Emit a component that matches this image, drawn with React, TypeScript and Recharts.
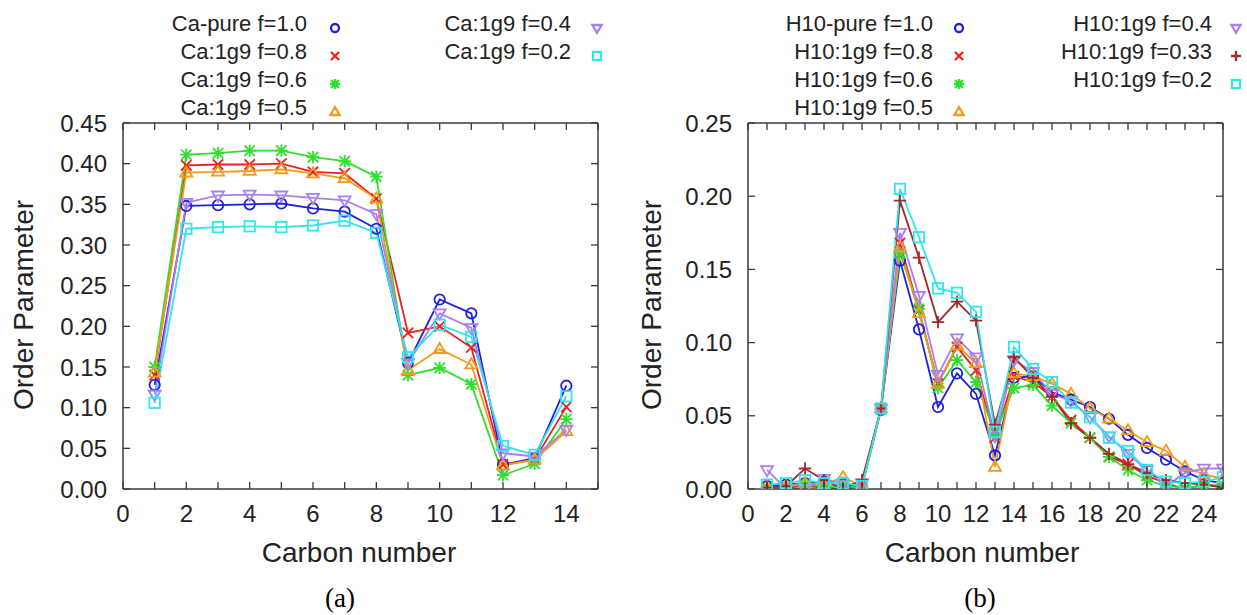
import React from "react";
import { LineChart, Line, XAxis, YAxis } from "recharts";

// Panel (a): Ca lipid, carbons 1-14
const caCarbons = [1, 2, 3, 4, 5, 6, 7, 8, 9, 10, 11, 12, 13, 14];
const caPure = [0.128, 0.348, 0.349, 0.35, 0.351, 0.345, 0.341, 0.32, 0.155, 0.233, 0.216, 0.03, 0.038, 0.127];
const ca08 = [0.14, 0.398, 0.399, 0.399, 0.4, 0.39, 0.388, 0.357, 0.192, 0.2, 0.174, 0.03, 0.036, 0.101];
const ca06 = [0.15, 0.411, 0.413, 0.416, 0.416, 0.408, 0.403, 0.384, 0.14, 0.149, 0.129, 0.017, 0.031, 0.086];
const ca05 = [0.143, 0.389, 0.39, 0.391, 0.393, 0.388, 0.382, 0.357, 0.146, 0.172, 0.153, 0.029, 0.036, 0.071];
const ca04 = [0.116, 0.352, 0.361, 0.362, 0.361, 0.358, 0.355, 0.338, 0.155, 0.216, 0.198, 0.044, 0.04, 0.073];
const ca02 = [0.106, 0.32, 0.322, 0.323, 0.322, 0.324, 0.33, 0.315, 0.162, 0.202, 0.187, 0.053, 0.042, 0.114];

// Panel (b): H10 lipid, carbons 1-25
const hCarbons = [1, 2, 3, 4, 5, 6, 7, 8, 9, 10, 11, 12, 13, 14, 15, 16, 17, 18, 19, 20, 21, 22, 23, 24, 25];
const hPure = [0.002, 0.003, 0.004, 0.005, 0.003, 0.002, 0.054, 0.156, 0.109, 0.056, 0.079, 0.065, 0.023, 0.076, 0.077, 0.066, 0.061, 0.056, 0.048, 0.037, 0.028, 0.02, 0.012, 0.006, 0.004];
const h08 = [0.001, 0.001, 0.002, 0.001, 0.0, 0.002, 0.055, 0.168, 0.122, 0.072, 0.097, 0.081, 0.035, 0.077, 0.073, 0.063, 0.047, 0.035, 0.022, 0.017, 0.009, 0.004, 0.0, 0.003, 0.002];
const h06 = [0.0, 0.002, 0.003, 0.002, 0.002, 0.001, 0.055, 0.161, 0.123, 0.069, 0.088, 0.073, 0.038, 0.069, 0.071, 0.057, 0.045, 0.035, 0.022, 0.013, 0.006, 0.002, 0.001, 0.002, 0.003];
const h05 = [0.001, 0.002, 0.004, 0.003, 0.008, 0.002, 0.055, 0.165, 0.12, 0.072, 0.098, 0.086, 0.015, 0.079, 0.077, 0.072, 0.065, 0.055, 0.048, 0.04, 0.032, 0.026, 0.015, 0.01, 0.007];
const h04 = [0.013, 0.0, 0.0, 0.007, 0.003, 0.004, 0.055, 0.175, 0.132, 0.078, 0.103, 0.09, 0.036, 0.088, 0.08, 0.065, 0.06, 0.049, 0.036, 0.024, 0.013, 0.002, 0.011, 0.014, 0.014];
const h033 = [0.001, 0.002, 0.014, 0.006, 0.0, 0.006, 0.055, 0.197, 0.158, 0.114, 0.128, 0.115, 0.044, 0.09, 0.076, 0.063, 0.045, 0.035, 0.024, 0.017, 0.011, 0.006, 0.004, 0.003, 0.001];
const h02 = [0.003, 0.004, 0.006, 0.004, 0.004, 0.002, 0.055, 0.205, 0.172, 0.137, 0.134, 0.121, 0.039, 0.097, 0.082, 0.073, 0.059, 0.049, 0.035, 0.026, 0.013, 0.005, 0.004, 0.005, 0.008];

// tick values
const caXTicks = [0, 1, 2, 3, 4, 5, 6, 7, 8, 9, 10, 11, 12, 13, 14, 15];
const caYTicks = [0, 0.05, 0.1, 0.15, 0.2, 0.25, 0.3, 0.35, 0.4, 0.45];
const hXTicks = [0, 1, 2, 3, 4, 5, 6, 7, 8, 9, 10, 11, 12, 13, 14, 15, 16, 17, 18, 19, 20, 21, 22, 23, 24, 25];
const hYTicks = [0, 0.05, 0.1, 0.15, 0.2, 0.25];

const BLUE = "#1f1fe0";
const RED = "#f01f1f";
const GREEN = "#2ee02e";
const ORANGE = "#f49b1c";
const PURPLE = "#a97ff0";
const CYAN = "#2fe6ee";
const BROWN = "#a2282a";

type Shape = "circle" | "x" | "star" | "tri" | "tridown" | "plus" | "square";

interface Series {
  key: string;
  name: string;
  values: number[];
  color: string;
  shape: Shape;
}

const caSeries: Series[] = [
  { key: "pure", name: "Ca-pure f=1.0", values: caPure, color: BLUE, shape: "circle" },
  { key: "f08", name: "Ca:1g9 f=0.8", values: ca08, color: RED, shape: "x" },
  { key: "f06", name: "Ca:1g9 f=0.6", values: ca06, color: GREEN, shape: "star" },
  { key: "f05", name: "Ca:1g9 f=0.5", values: ca05, color: ORANGE, shape: "tri" },
  { key: "f04", name: "Ca:1g9 f=0.4", values: ca04, color: PURPLE, shape: "tridown" },
  { key: "f02", name: "Ca:1g9 f=0.2", values: ca02, color: CYAN, shape: "square" },
];

const hSeries: Series[] = [
  { key: "pure", name: "H10-pure f=1.0", values: hPure, color: BLUE, shape: "circle" },
  { key: "f08", name: "H10:1g9 f=0.8", values: h08, color: RED, shape: "x" },
  { key: "f06", name: "H10:1g9 f=0.6", values: h06, color: GREEN, shape: "star" },
  { key: "f05", name: "H10:1g9 f=0.5", values: h05, color: ORANGE, shape: "tri" },
  { key: "f04", name: "H10:1g9 f=0.4", values: h04, color: PURPLE, shape: "tridown" },
  { key: "f033", name: "H10:1g9 f=0.33", values: h033, color: BROWN, shape: "plus" },
  { key: "f02", name: "H10:1g9 f=0.2", values: h02, color: CYAN, shape: "square" },
];

const buildRows = (carbons: number[], series: Series[]) =>
  carbons.map((c, i) => {
    const row: Record<string, number> = { c };
    series.forEach((s) => (row[s.key] = s.values[i]));
    return row;
  });

const caData = buildRows(caCarbons, caSeries);
const hData = buildRows(hCarbons, hSeries);

const FONT = '"Liberation Sans", Arial, Helvetica, sans-serif';
const FRAME = "#3a3a3a";
const TICK = 7; // inward tick length

// plot box inside each chart svg (same for both panels)
const PLOT_LEFT = 123;
const PLOT_TOP = 123;
const PLOT_BOTTOM = 489;
const PLOT_RIGHT = 598;

function Marker({ shape, x, y, color, s, w = 1.8 }: { shape: Shape; x: number; y: number; color: string; s: number; w?: number }) {
  const st = { fill: "none", stroke: color, strokeWidth: w };
  switch (shape) {
    case "circle":
      return <circle cx={x} cy={y} r={s} {...st} />;
    case "x":
      return <path d={`M${x - s},${y - s}L${x + s},${y + s}M${x - s},${y + s}L${x + s},${y - s}`} {...st} />;
    case "plus":
      return <path d={`M${x - s - 1},${y}L${x + s + 1},${y}M${x},${y - s - 1}L${x},${y + s + 1}`} {...st} />;
    case "star":
      return (
        <path
          d={`M${x - s},${y - s}L${x + s},${y + s}M${x - s},${y + s}L${x + s},${y - s}M${x - s - 1},${y}L${x + s + 1},${y}M${x},${y - s - 1}L${x},${y + s + 1}`}
          {...st}
        />
      );
    case "tri":
      return <path d={`M${x},${y - s * 1.2}L${x + s * 1.15},${y + s * 0.75}L${x - s * 1.15},${y + s * 0.75}Z`} {...st} />;
    case "tridown":
      return <path d={`M${x},${y + s * 1.2}L${x + s * 1.15},${y - s * 0.75}L${x - s * 1.15},${y - s * 0.75}Z`} {...st} />;
    default:
      return <rect x={x - s} y={y - s} width={s * 2} height={s * 2} {...st} />;
  }
}

const makeDot = (shape: Shape, color: string) => (p: any) => {
  if (p.cx == null || p.cy == null) return <g key={p.index} />;
  return <Marker key={p.index} shape={shape} x={p.cx} y={p.cy} color={color} s={5.2} />;
};

// custom ticks: inward tick mark drawn against the frame, label where needed
const BottomTick = (labelMax: number) => (p: any) => {
  const v = p.payload.value;
  return (
    <g>
      <line x1={p.x} x2={p.x} y1={PLOT_BOTTOM} y2={PLOT_BOTTOM - TICK} stroke={FRAME} strokeWidth={1.3} />
      {v % 2 === 0 && v <= labelMax ? (
        <text x={p.x} y={PLOT_BOTTOM + 33} textAnchor="middle" fontSize={24} fontFamily={FONT} fill="#222">
          {v}
        </text>
      ) : null}
    </g>
  );
};

const TopTick = (p: any) => (
  <line x1={p.x} x2={p.x} y1={PLOT_TOP} y2={PLOT_TOP + TICK} stroke={FRAME} strokeWidth={1.3} />
);

const LeftTick = (p: any) => (
  <g>
    <line x1={PLOT_LEFT} x2={PLOT_LEFT + TICK} y1={p.y} y2={p.y} stroke={FRAME} strokeWidth={1.3} />
    <text x={PLOT_LEFT - 16} y={p.y + 8.5} textAnchor="end" fontSize={24} fontFamily={FONT} fill="#222">
      {Number(p.payload.value).toFixed(2)}
    </text>
  </g>
);

const RightTick = (p: any) => (
  <line x1={PLOT_RIGHT} x2={PLOT_RIGHT - TICK} y1={p.y} y2={p.y} stroke={FRAME} strokeWidth={1.3} />
);

interface PanelProps {
  data: Record<string, number>[];
  series: Series[];
  xTicks: number[];
  yTicks: number[];
  xMax: number;
  labelMax: number;
  yMax: number;
  width: number;
}

const Panel: React.FC<PanelProps> = ({ data, series, xTicks, yTicks, xMax, labelMax, yMax, width }) => {
  return (
    <LineChart
      width={width}
      height={615}
      data={data}
      margin={{ top: PLOT_TOP - 5, right: width - PLOT_RIGHT - 5, left: PLOT_LEFT - 80, bottom: 615 - PLOT_BOTTOM - 60 }}
    >
      <XAxis
        xAxisId="b"
        dataKey="c"
        type="number"
        domain={[0, xMax]}
        allowDataOverflow
        ticks={xTicks}
        interval={0}
        tickLine={false}
        tickSize={0}
        height={60}
        stroke={FRAME}
        strokeWidth={1.5}
        tick={BottomTick(labelMax)}
      />
      <XAxis
        xAxisId="t"
        orientation="top"
        dataKey="c"
        type="number"
        domain={[0, xMax]}
        allowDataOverflow
        ticks={xTicks}
        interval={0}
        tickLine={false}
        tickSize={0}
        height={5}
        stroke={FRAME}
        strokeWidth={1.5}
        tick={TopTick}
      />
      <YAxis
        yAxisId="l"
        type="number"
        domain={[0, yMax]}
        allowDataOverflow
        ticks={yTicks}
        interval={0}
        tickLine={false}
        tickSize={0}
        width={80}
        stroke={FRAME}
        strokeWidth={1.5}
        tick={LeftTick}
      />
      <YAxis
        yAxisId="r"
        orientation="right"
        type="number"
        domain={[0, yMax]}
        allowDataOverflow
        ticks={yTicks}
        interval={0}
        tickLine={false}
        tickSize={0}
        width={5}
        stroke={FRAME}
        strokeWidth={1.5}
        tick={RightTick}
      />
      {series.map((s) => (
        <Line
          key={s.key}
          xAxisId="b"
          yAxisId="l"
          type="linear"
          dataKey={s.key}
          name={s.name}
          stroke={s.color}
          strokeWidth={1.8}
          dot={makeDot(s.shape, s.color)}
          activeDot={false}
          isAnimationActive={false}
        />
      ))}
      {/* keep the mirrored axes attached to something */}
      <Line xAxisId="t" yAxisId="r" dataKey={series[0].key} stroke="none" dot={false} activeDot={false} isAnimationActive={false} />
    </LineChart>
  );
};

interface LegendProps {
  series: Series[];
  col1Text: number;
  col1Mark: number;
  col2Text: number;
  col2Mark: number;
}

const LegendBlock: React.FC<LegendProps> = ({ series, col1Text, col1Mark, col2Text, col2Mark }) => {
  // first four entries in the left column, the rest in the right one
  return (
    <g>
      {series.map((s, i) => {
        const col = i < 4 ? 0 : 1;
        const row = col === 0 ? i : i - 4;
        const tx = col === 0 ? col1Text : col2Text;
        const mx = col === 0 ? col1Mark : col2Mark;
        return (
          <g key={s.key}>
            <text x={tx} y={31 + row * 28} textAnchor="end" fontSize={22} fontFamily={FONT} fill="#222">
              {s.name}
            </text>
            <Marker shape={s.shape} x={mx} y={28 + row * 28} color={s.color} s={4} w={2.3} />
          </g>
        );
      })}
    </g>
  );
};

export default function App() {
  return (
    <div style={{ position: "absolute", left: 0, top: 0, width: 1247, height: 615, background: "#fff" }}>
      <div style={{ position: "absolute", left: 0, top: 0 }}>
        <Panel data={caData} series={caSeries} xTicks={caXTicks} yTicks={caYTicks} xMax={15} labelMax={14} yMax={0.45} width={620} />
      </div>
      <div style={{ position: "absolute", left: 625, top: 0 }}>
        <Panel data={hData} series={hSeries} xTicks={hXTicks} yTicks={hYTicks} xMax={25} labelMax={24} yMax={0.25} width={622} />
      </div>
      <svg width={1247} height={615} style={{ position: "absolute", left: 0, top: 0, pointerEvents: "none" }}>
        <LegendBlock series={caSeries} col1Text={307} col1Mark={335} col2Text={571} col2Mark={597} />
        <LegendBlock series={hSeries} col1Text={933} col1Mark={959} col2Text={1212} col2Mark={1236} />
        <text transform="translate(33,305) rotate(-90)" textAnchor="middle" fontSize={28} fontFamily={FONT} fill="#222">
          Order Parameter
        </text>
        <text transform="translate(661,305) rotate(-90)" textAnchor="middle" fontSize={28} fontFamily={FONT} fill="#222">
          Order Parameter
        </text>
        <text x={359} y={562} textAnchor="middle" fontSize={28} fontFamily={FONT} fill="#222">
          Carbon number
        </text>
        <text x={982} y={562} textAnchor="middle" fontSize={28} fontFamily={FONT} fill="#222">
          Carbon number
        </text>
        <text x={340} y={607} textAnchor="middle" fontSize={27} fontFamily='"Liberation Serif", "Times New Roman", serif' fill="#000">
          (a)
        </text>
        <text x={980} y={607} textAnchor="middle" fontSize={27} fontFamily='"Liberation Serif", "Times New Roman", serif' fill="#000">
          (b)
        </text>
      </svg>
    </div>
  );
}
